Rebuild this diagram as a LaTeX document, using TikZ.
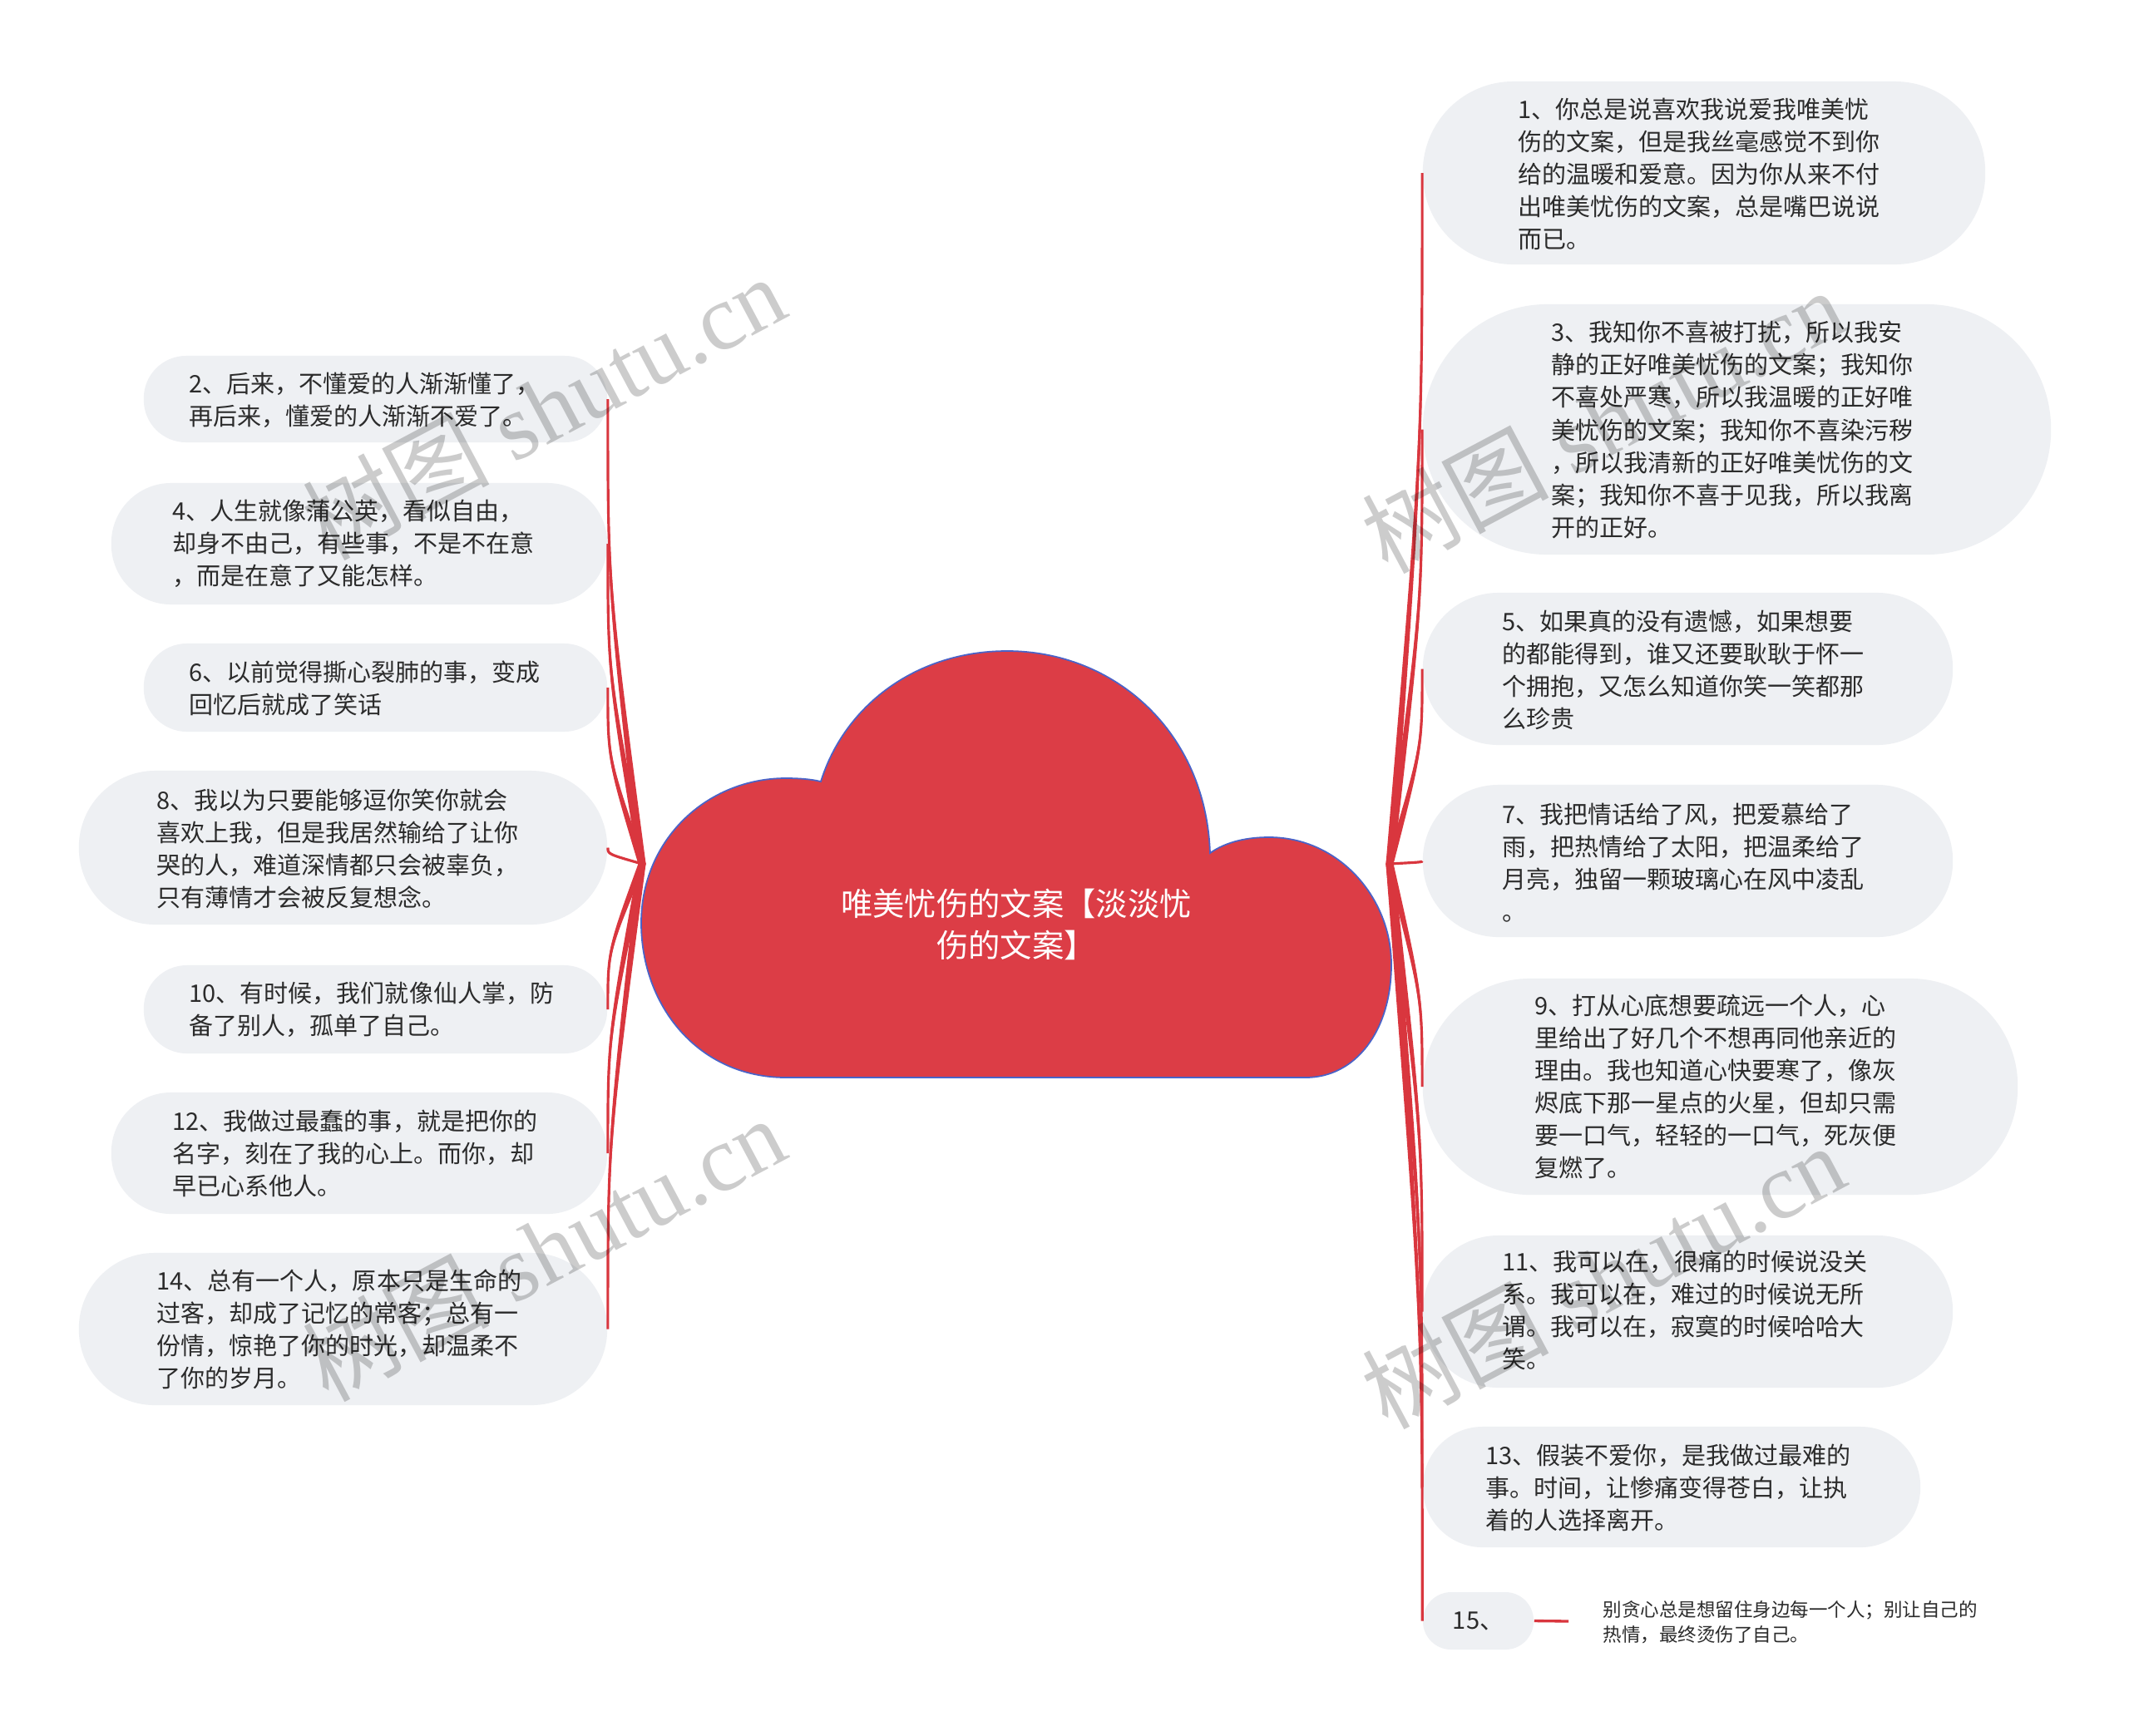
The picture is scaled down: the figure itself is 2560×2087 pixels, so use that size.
\documentclass[tikz,border=0pt]{standalone}
\usepackage{fontspec}
\newfontfamily\cjk{Noto Sans CJK SC}
\newfontfamily\wmlat{Liberation Serif}
\usetikzlibrary{calc}
\definecolor{cloudred}{HTML}{DC3D46}
\definecolor{cloudedge}{HTML}{4A63C8}
\definecolor{linkred}{HTML}{D9363E}
\definecolor{pillgray}{HTML}{EEF0F3}
\definecolor{inkc}{HTML}{2B2B2B}
\newcommand\branchto[2]{%
  \fill[linkred] let \p1=(#1), \p2=(#2), \p3=(\x2,{0.4*(\y1)+0.6*(\y2)}) in
    (\x1-1.3pt,\y1) .. controls (\x3-0.45pt,\y3) .. (\x2,\y2)
    .. controls (\x3+0.45pt,\y3) .. (\x1+1.3pt,\y1) -- cycle;
  \draw[linkred, line width=0.9pt] let \p1=(#1), \p2=(#2) in
    (#1) .. controls (\x2,{0.4*(\y1)+0.6*(\y2)}) .. (#2);
}
\begin{document}
\begin{tikzpicture}[x=0.01cm,y=-0.01cm,
  pill/.style={rectangle, fill=pillgray, draw=none, inner sep=0pt},
  txt/.style={anchor=west, align=left, inner sep=0pt, text=inkc,
    font=\cjk\fontsize{8.25pt}{11.1pt}\selectfont},
  wm/.style={text=black, opacity=0.2, inner sep=0pt,
    font=\wmlat\fontsize{32pt}{36pt}\selectfont}]
\useasboundingbox[fill=white] (0,0) rectangle (2560,2087);

% cloud
\fill[cloudred, draw=cloudedge, line width=0.5pt]
  (987,940) .. controls (1015,850) and (1100,783) .. (1211,783)
  .. controls (1340,783) and (1450,880) .. (1455,1026)
  .. controls (1475,1012) and (1500,1007) .. (1526,1007)
  .. controls (1610,1007) and (1673,1080) .. (1673,1160)
  .. controls (1673,1240) and (1630,1296) .. (1570,1296)
  -- (945,1296)
  .. controls (840,1296) and (771,1210) .. (771,1110)
  .. controls (771,1010) and (850,936) .. (945,936)
  .. controls (960,936) and (975,937) .. (987,940) -- cycle;
\node[text=white, align=center, inner sep=0pt,
  font=\cjk\fontsize{10.9pt}{14.2pt}\selectfont] (root) at (1222,1112)
  {唯美忧伤的文案【淡淡忧\\伤的文案】};
\coordinate (rR) at (1671,1039);
\coordinate (rL) at (772,1039);

% right boxes
\node[pill, minimum width=6.76cm, minimum height=2.20cm, rounded corners=1.09cm] (n1) at (2049,208) {};
\node[pill, minimum width=7.55cm, minimum height=3.01cm, rounded corners=1.50cm] (n3) at (2088.5,516.5) {};
\node[pill, minimum width=6.37cm, minimum height=1.83cm, rounded corners=0.91cm] (n5) at (2029.5,804.5) {};
\node[pill, minimum width=6.37cm, minimum height=1.83cm, rounded corners=0.91cm] (n7) at (2029.5,1035.5) {};
\node[pill, minimum width=7.15cm, minimum height=2.60cm, rounded corners=1.29cm] (n9) at (2068.5,1307) {};
\node[pill, minimum width=6.37cm, minimum height=1.83cm, rounded corners=0.91cm] (n11) at (2029.5,1577.5) {};
\node[pill, minimum width=5.98cm, minimum height=1.45cm, rounded corners=0.72cm] (n13) at (2010,1788.5) {};
\node[pill, minimum width=1.33cm, minimum height=0.69cm, rounded corners=0.34cm, text=inkc,
  font=\cjk\fontsize{8.25pt}{11.1pt}\selectfont] (n15) at (1777.5,1949.5) {15、};

% left boxes
\node[pill, minimum width=5.57cm, minimum height=1.04cm, rounded corners=0.51cm] (n2) at (451.5,480) {};
\node[pill, minimum width=5.96cm, minimum height=1.46cm, rounded corners=0.72cm] (n4) at (432,654) {};
\node[pill, minimum width=5.57cm, minimum height=1.06cm, rounded corners=0.52cm] (n6) at (451.5,827) {};
\node[pill, minimum width=6.35cm, minimum height=1.85cm, rounded corners=0.92cm] (n8) at (412.5,1019.5) {};
\node[pill, minimum width=5.57cm, minimum height=1.06cm, rounded corners=0.52cm] (n10) at (451.5,1214) {};
\node[pill, minimum width=5.96cm, minimum height=1.46cm, rounded corners=0.72cm] (n12) at (432,1387) {};
\node[pill, minimum width=6.35cm, minimum height=1.83cm, rounded corners=0.91cm] (n14) at (412.5,1598.5) {};

% connectors
\branchto{rR}{n1.west}
\branchto{rR}{n3.west}
\branchto{rR}{n5.west}
\branchto{rR}{n7.west}
\branchto{rR}{n9.west}
\branchto{rR}{n11.west}
\branchto{rR}{n13.west}
\branchto{rR}{n15.west}
\branchto{rL}{n2.east}
\branchto{rL}{n4.east}
\branchto{rL}{n6.east}
\branchto{rL}{n8.east}
\branchto{rL}{n10.east}
\branchto{rL}{n12.east}
\branchto{rL}{n14.east}

% texts right
\node[txt] (t1) at (1825,209) {1、你总是说喜欢我说爱我唯美忧\\伤的文案，但是我丝毫感觉不到你\\给的温暖和爱意。因为你从来不付\\出唯美忧伤的文案，总是嘴巴说说\\而已。};
\node[txt] (t3) at (1865,517) {3、我知你不喜被打扰，所以我安\\静的正好唯美忧伤的文案；我知你\\不喜处严寒，所以我温暖的正好唯\\美忧伤的文案；我知你不喜染污秽\\，所以我清新的正好唯美忧伤的文\\案；我知你不喜于见我，所以我离\\开的正好。};
\node[txt] (t5) at (1806,806) {5、如果真的没有遗憾，如果想要\\的都能得到，谁又还要耿耿于怀一\\个拥抱，又怎么知道你笑一笑都那\\么珍贵};
\node[txt] (t7) at (1806,1038) {7、我把情话给了风，把爱慕给了\\雨，把热情给了太阳，把温柔给了\\月亮，独留一颗玻璃心在风中凌乱\\。};
\node[txt] (t9) at (1845,1307) {9、打从心底想要疏远一个人，心\\里给出了好几个不想再同他亲近的\\理由。我也知道心快要寒了，像灰\\烬底下那一星点的火星，但却只需\\要一口气，轻轻的一口气，死灰便\\复燃了。};
\node[txt] (t11) at (1806,1576) {11、我可以在，很痛的时候说没关\\系。我可以在，难过的时候说无所\\谓。我可以在，寂寞的时候哈哈大\\笑。};
\node[txt] (t13) at (1786,1789) {13、假装不爱你，是我做过最难的\\事。时间，让惨痛变得苍白，让执\\着的人选择离开。};
\coordinate (c15) at (1886,1950);
\draw[linkred, line width=0.95pt] (n15.east) -- (c15);
\node[txt, font=\cjk\fontsize{6.4pt}{8.5pt}\selectfont] (t15) at (1927,1951) {别贪心总是想留住身边每一个人；别让自己的\\热情，最终烫伤了自己。};

% texts left
\node[txt] (t2) at (227,481) {2、后来，不懂爱的人渐渐懂了，\\再后来，懂爱的人渐渐不爱了。};
\node[txt] (t4) at (207,654) {4、人生就像蒲公英，看似自由，\\却身不由己，有些事，不是不在意\\，而是在意了又能怎样。};
\node[txt] (t6) at (227,827.5) {6、以前觉得撕心裂肺的事，变成\\回忆后就成了笑话};
\node[txt] (t8) at (188,1021) {8、我以为只要能够逗你笑你就会\\喜欢上我，但是我居然输给了让你\\哭的人，难道深情都只会被辜负，\\只有薄情才会被反复想念。};
\node[txt] (t10) at (227,1214) {10、有时候，我们就像仙人掌，防\\备了别人，孤单了自己。};
\node[txt] (t12) at (207,1387) {12、我做过最蠢的事，就是把你的\\名字，刻在了我的心上。而你，却\\早已心系他人。};
\node[txt] (t14) at (188,1599) {14、总有一个人，原本只是生命的\\过客，却成了记忆的常客；总有一\\份情，惊艳了你的时光，却温柔不\\了你的岁月。};

% watermarks
\node[wm, rotate=28] (wm1) at (653,490) {{\cjk 树图} shutu.cn};
\node[wm, rotate=28] (wm2) at (653,1502) {{\cjk 树图} shutu.cn};
\node[wm, rotate=28] (wm3) at (1927,506) {{\cjk 树图} shutu.cn};
\node[wm, rotate=28] (wm4) at (1927,1535) {{\cjk 树图} shutu.cn};
\end{tikzpicture}
\end{document}
